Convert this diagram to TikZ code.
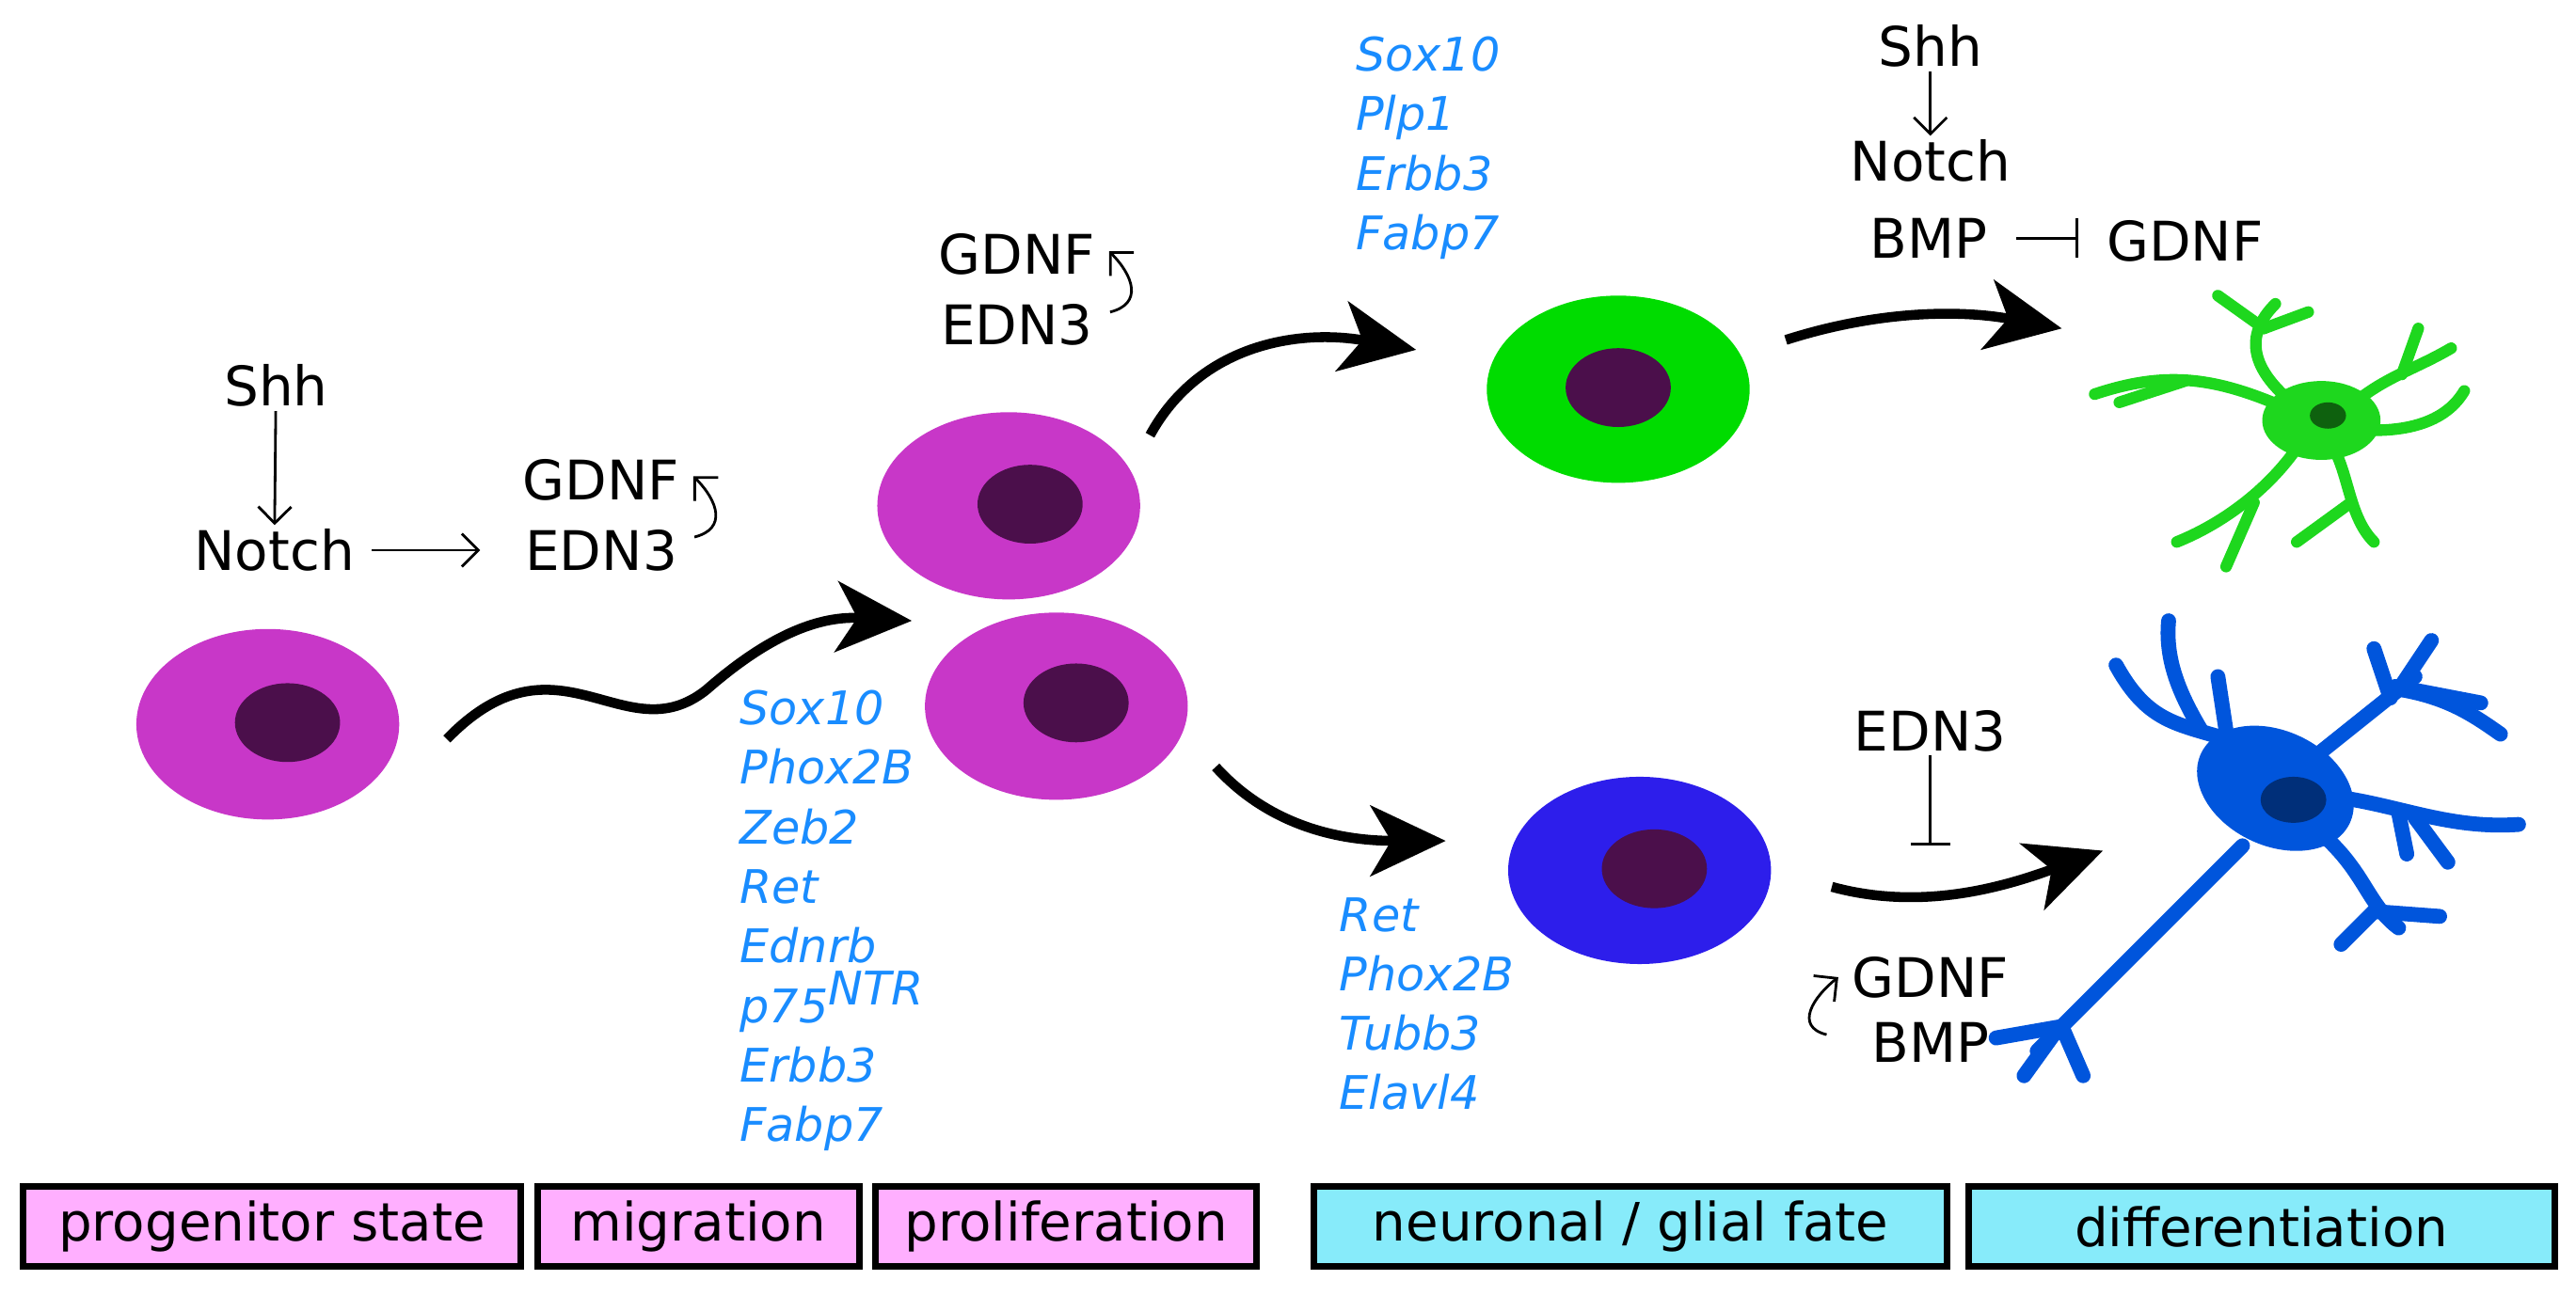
\documentclass[tikz,border=0pt]{standalone}
\usepackage{fontspec}
\setmainfont{DejaVu Sans}
\usetikzlibrary{arrows.meta,positioning,calc}
\definecolor{mag}{RGB}{200,55,200}
\definecolor{nuc}{RGB}{75,15,75}
\definecolor{grn}{RGB}{0,220,0}
\definecolor{glia}{RGB}{30,215,30}
\definecolor{blu}{RGB}{45,30,235}
\definecolor{neur}{RGB}{0,85,220}
\definecolor{gene}{RGB}{25,140,255}
\definecolor{pink}{RGB}{255,175,255}
\definecolor{cyan}{RGB}{135,235,250}
\begin{document}
\begin{tikzpicture}[x=0.01746cm, y=-0.01746cm,
  txt/.style={font=\fontsize{16.5}{19}\selectfont, inner sep=1pt},
  gen/.style={font=\fontsize{14}{18}\selectfont\itshape, text=gene, align=left, inner sep=0pt, anchor=north west},
  box/.style={draw, line width=2pt, font=\fontsize{16}{19}\selectfont, minimum height=0.85cm, inner sep=0pt},
  big/.style={line width=3pt, -{Stealth[length=0.8cm,width=0.75cm,inset=0.22cm]}},
  thin/.style={line width=0.8pt, -{Straight Barb[length=5pt]}},
  inh/.style={line width=0.8pt, -{Bar[width=12pt]}},
  gl/.style={glia, line width=3.5pt, line cap=round},
  nr/.style={neur, line width=4.5pt, line cap=round}]
\useasboundingbox (0,0) rectangle (1568,789);
% cells
\fill[mag] (163,441) ellipse (80 and 58);  \fill[nuc] (175,440) ellipse (32 and 24);
\fill[mag] (614,308) ellipse (80 and 57);  \fill[nuc] (627,307) ellipse (32 and 24);
\fill[mag] (643,430) ellipse (80 and 57);  \fill[nuc] (655,428) ellipse (32 and 24);
\fill[grn] (985,237) ellipse (80 and 57);  \fill[nuc] (985,236) ellipse (32 and 24);
\fill[blu] (998,530) ellipse (80 and 57);  \fill[nuc] (1007,529) ellipse (32 and 24);
% glia
\draw[gl] (1395,250) .. controls (1350,230) and (1320,225) .. (1275,240);
\draw[gl] (1330,232) -- (1290,245);
\draw[gl] (1395,245) .. controls (1365,220) and (1370,200) .. (1385,185);
\draw[gl] (1378,200) -- (1350,180);
\draw[gl] (1378,200) -- (1405,190);
\draw[gl] (1430,248) .. controls (1450,230) and (1470,225) .. (1492,212);
\draw[gl] (1462,228) -- (1472,200);
\draw[gl] (1445,262) .. controls (1470,262) and (1490,255) .. (1500,238);
\draw[gl] (1400,270) .. controls (1380,300) and (1350,320) .. (1325,330);
\draw[gl] (1372,306) -- (1355,345);
\draw[gl] (1420,272) .. controls (1430,290) and (1430,315) .. (1445,330);
\draw[gl] (1431,306) -- (1398,330);
\fill[glia] (1413,256) ellipse (36 and 24);
\fill[glia!45!black] (1417,253) ellipse (11 and 8);
% neuron
\draw[nr] (1365,515) -- (1240,640);
\draw[nr] (1255,625) -- (1215,632);
\draw[nr] (1255,625) -- (1268,655);
\draw[nr] (1250,630) -- (1232,655);
\draw[nr] (1370,455) .. controls (1330,440) and (1310,445) .. (1288,405);
\draw[nr] (1340,445) .. controls (1325,420) and (1318,400) .. (1320,378);
\draw[nr] (1355,445) -- (1350,412);
\draw[nr] (1410,460) -- (1470,412);
\draw[nr] (1455,425) -- (1445,395);
\draw[nr] (1460,420) -- (1480,390);
\draw[nr] (1462,420) .. controls (1490,425) and (1505,435) .. (1522,447);
\draw[nr] (1458,418) -- (1510,428);
\draw[nr] (1420,485) .. controls (1460,490) and (1490,505) .. (1533,502);
\draw[nr] (1470,498) -- (1490,525);
\draw[nr] (1460,495) -- (1465,520);
\draw[nr] (1410,505) .. controls (1440,530) and (1440,550) .. (1460,565);
\draw[nr] (1445,555) -- (1485,558);
\draw[nr] (1445,555) -- (1425,575);
\fill[neur, rotate around={-25:(1385,480)}] (1385,480) ellipse (50 and 35);
\fill[neur!55!black] (1396,487) ellipse (20 and 14);
% left signals
\node[txt] (shh1) at (168,235) {Shh};
\node[txt] (notch1) at (167,335) {Notch};
\node[txt] (gdnf1) at (366,292) {GDNF};
\node[txt] (edn1) at (366,335) {EDN3};
\draw[thin] (shh1) -- (notch1);
\draw[thin] (notch1.east) ++(8,0) coordinate (n1) -- ($(edn1.west)+(-25,0)$) coordinate (n2);
\draw[thin] (edn1.east) ++(8,-8) .. controls +(20,-5) and +(15,15) .. ($(gdnf1.east)+(6,-2)$);
\node[txt] (gdnf2) at (619,155) {GDNF};
\node[txt] (edn2) at (619,198) {EDN3};
\draw[thin] (edn2.east) ++(8,-8) .. controls +(20,-5) and +(15,15) .. ($(gdnf2.east)+(6,-2)$);
% right signals
\node[txt] (shh2) at (1175,28) {Shh};
\node[txt] (notch2) at (1175,98) {Notch};
\node[txt] (bmp1) at (1174,145) {BMP};
\node[txt] (gdnf3) at (1330,147) {GDNF};
\draw[thin] (shh2) -- (notch2);
\draw[inh] (bmp1.east) ++(15,0) -- ($(gdnf3.west)+(-15,-2)$);
\node[txt] (edn3) at (1175,445) {EDN3};
\coordinate (bar) at (1175,515);
\draw[inh] (edn3) -- (bar);
\node[txt] (gdnf4) at (1175,595) {GDNF};
\node[txt] (bmp2) at (1175,635) {BMP};
\draw[thin] (bmp2.west) ++(-25,-5) .. controls +(-20,-5) and +(-15,12) .. ($(gdnf4.west)+(-6,0)$);
% big arrows
\coordinate (a1) at (272,450); \coordinate (a2) at (555,378);
\draw[big] (a1) .. controls (340,380) and (380,460) .. (430,420) .. controls (470,385) and (500,375) .. (a2);
\draw[big] (700,265) .. controls (730,210) and (790,200) .. (862,213);
\draw[big] (740,467) .. controls (770,500) and (810,512) .. (880,512);
\draw[big] (1087,207) .. controls (1140,190) and (1190,188) .. (1255,200);
\draw[big] (1115,540) .. controls (1170,555) and (1220,540) .. (1280,518);
% genes
\node[gen] (g1) at (450,420) {Sox10\\Phox2B\\Zeb2\\Ret\\Ednrb\\p75$^{\textit{NTR}}$\\Erbb3\\Fabp7};
\node[gen] (g2) at (825,22) {Sox10\\Plp1\\Erbb3\\Fabp7};
\node[gen] (g3) at (815,546) {Ret\\Phox2B\\Tubb3\\Elavl4};
% stages
\node[box, fill=pink, minimum width=5.29cm] (s1) at (165.5,747) {progenitor state};
\node[box, fill=pink, minimum width=3.42cm] (s2) at (425,747) {migration};
\node[box, fill=pink, minimum width=4.05cm] (s3) at (649,747) {proliferation};
\node[box, fill=cyan, minimum width=6.72cm] (s4) at (992.5,747) {neuronal / glial fate};
\node[box, fill=cyan, minimum width=6.23cm] (s5) at (1376.5,747) {differentiation};
\end{tikzpicture}
\end{document}
